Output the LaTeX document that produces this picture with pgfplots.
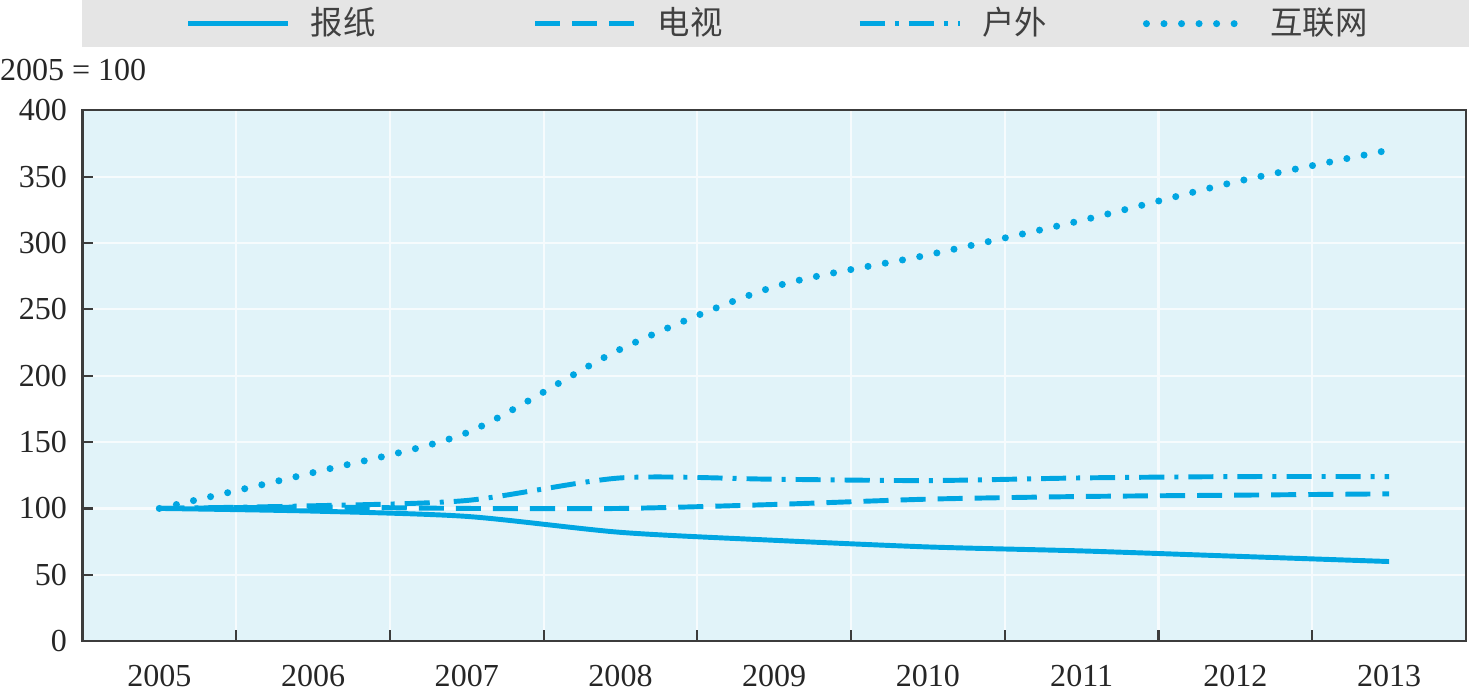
\documentclass[border=0pt]{standalone}
\usepackage{fontspec}
\setmainfont{Liberation Serif}
\newfontfamily\cjk{Noto Sans CJK SC}
\usepackage{pgfplots}
\pgfplotsset{compat=1.18}

\definecolor{lineblue}{RGB}{0,166,226}
\definecolor{bgblue}{RGB}{225,243,249}
\definecolor{legendgray}{RGB}{229,229,229}
\definecolor{axisgray}{RGB}{60,60,60}

% index 2005 = 100
\pgfplotstableread{
x paper tv outdoor web
0 100 100 100 100
1  98 101 102 127
2  94 100 106 157
3  82 100 123 220
4  76 103 122 267
5  71 107 121 291
6  68 109 123 317
7  64 110 124 346
8  60 111 124 370
}\media

\begin{document}
\begin{tikzpicture}
    % grey band behind the legend
    \fill[legendgray] (0,5.93) rectangle (13.84,6.40);
    \begin{axis}[
        scale only axis,
        width=13.81cm,
        height=5.3cm,
        clip=false,
        xmin=-0.5, xmax=8.5,
        ymin=0, ymax=400,
        ytick={0,50,...,400},
        xtick={0.5,1.5,...,7.5},
        xticklabels={,,,,,,,,},
        extra x ticks={0,1,...,8},
        extra x tick labels={2005,2006,2007,2008,2009,2010,2011,2012,2013},
        extra x tick style={major tick length=0pt, grid=none,
            xticklabel style={yshift=-1.2mm}},
        tick pos=left,
        tick align=inside,
        major tick length=1.1mm,
        tick style={axisgray, line width=0.6pt},
        xmajorgrids, ymajorgrids,
        grid style={white!70!bgblue, line width=0.6pt},
        axis line style={axisgray, line width=0.7pt},
        axis background/.style={fill=bgblue},
        /pgf/number format/assume math mode=true,
        ticklabel style={font=\fontsize{9.1pt}{11pt}\selectfont, text=black!85},
        yticklabel style={xshift=-0.3mm},
        legend columns=4,
        legend style={
            at={(0.503,1.163)}, anchor=center,
            draw=none, fill=none, inner sep=0pt,
            nodes={inner sep=1pt},
            font=\fontsize{9.2pt}{11pt}\selectfont\cjk,
            text=black!75,
            /tikz/every odd column/.append style={column sep=1.65mm},
            /tikz/column 2/.style={column sep=15.3mm},
            /tikz/column 4/.style={column sep=13.1mm},
            /tikz/column 6/.style={column sep=9.2mm},
        },
        legend image code/.code={
            \draw[#1] (0cm,0cm) -- (1cm,0cm);
        },
        every axis plot/.append style={lineblue, line width=1.4pt, smooth, tension=0.45},
    ]
    \addplot[solid] table[x=x, y=paper] {\media};
    \addlegendentry{报纸}
    \addplot[dash pattern=on 2.5mm off 1.2mm] table[x=x, y=tv] {\media};
    \addlegendentry{电视}
    \addplot[dash pattern=on 2.5mm off 1mm on 0.4mm off 1mm] table[x=x, y=outdoor] {\media};
    \addlegendentry{户外}
    \addplot[line cap=round, line width=2pt, dash pattern=on 0pt off 1.75mm] table[x=x, y=web] {\media};
    \addlegendentry{互联网}

    \node[anchor=west, inner sep=0pt, font=\fontsize{9.1pt}{11pt}\selectfont, text=black!85]
        at (rel axis cs:-0.0601,1.0755) {2005 = 100};
    \end{axis}
\end{tikzpicture}
\end{document}
